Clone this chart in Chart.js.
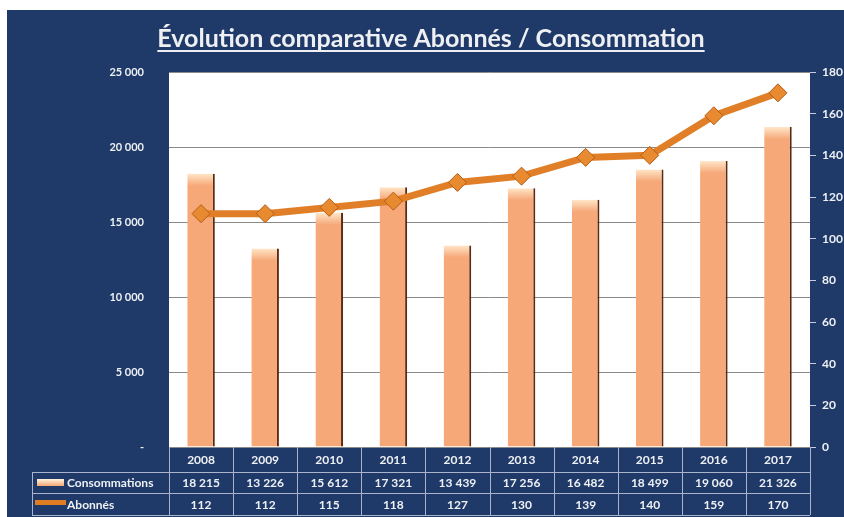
<!DOCTYPE html>
<html lang="fr">
<head>
<meta charset="UTF-8">
<title>Évolution comparative Abonnés / Consommation</title>
<script src="https://cdn.jsdelivr.net/npm/chart.js"></script>
<style>
  body { margin: 0; background: #fff; }
</style>
</head>
<body>
<canvas id="chart" width="844" height="517"></canvas>
<script>
  // data
  const years = ['2008', '2009', '2010', '2011', '2012', '2013', '2014', '2015', '2016', '2017'];
  const consommations = [18215, 13226, 15612, 17321, 13439, 17256, 16482, 18499, 19060, 21326];
  const abonnes = [112, 112, 115, 118, 127, 130, 139, 140, 159, 170];
  const seriesNames = ['Consommations', 'Abonnés'];
  const titleText = 'Évolution comparative Abonnés / Consommation';

  const NAVY = '#1f3a68';
  const TXT = '#eef0f4';
  const FONT = 'Lato, "Open Sans", sans-serif';

  function fmt(v) {
    return String(Math.round(v)).replace(/\B(?=(\d{3})+(?!\d))/g, ' ');
  }

  // background, white plot area and title
  const backdrop = {
    id: 'backdrop',
    beforeDraw(chart) {
      const ctx = chart.ctx, a = chart.chartArea;
      ctx.save();
      ctx.fillStyle = '#fff';
      ctx.fillRect(0, 0, chart.width, chart.height);
      ctx.fillStyle = NAVY;
      ctx.fillRect(7, 10, chart.width - 7, chart.height - 10);
      ctx.fillStyle = '#fff';
      ctx.fillRect(a.left, a.top, a.right - a.left, a.bottom - a.top);

      ctx.font = 'bold 25px ' + FONT;
      ctx.fillStyle = TXT;
      ctx.textAlign = 'center';
      ctx.textBaseline = 'alphabetic';
      const cx = 431;
      ctx.fillText(titleText, cx, 47);
      const w = ctx.measureText(titleText).width;
      ctx.fillRect(cx - w / 2, 50, w, 2);
      ctx.restore();
    }
  };

  // data table under the plot, columns follow the x scale
  const dataTable = {
    id: 'dataTable',
    afterDraw(chart) {
      const ctx = chart.ctx, a = chart.chartArea, xs = chart.scales.x;
      const n = years.length;
      const colW = (a.right - a.left) / n;
      const rowY = [a.bottom, 472, 493, 515];
      const tableLeft = 32;
      ctx.save();
      ctx.strokeStyle = '#aab4cc';
      ctx.lineWidth = 1;
      ctx.beginPath();
      for (let i = 0; i <= n; i++) {
        const x = Math.round(a.left + i * colW) + 0.5;
        ctx.moveTo(x, a.bottom);
        ctx.lineTo(x, rowY[3]);
      }
      ctx.moveTo(tableLeft + 0.5, rowY[1]);
      ctx.lineTo(tableLeft + 0.5, rowY[3]);
      for (let r = 1; r < 4; r++) {
        ctx.moveTo(tableLeft, rowY[r] + 0.5);
        ctx.lineTo(a.right, rowY[r] + 0.5);
      }
      ctx.stroke();

      ctx.fillStyle = TXT;
      ctx.font = 'bold 12px ' + FONT;
      ctx.textAlign = 'center';
      ctx.textBaseline = 'middle';
      for (let i = 0; i < n; i++) {
        const x = xs.getPixelForValue(i);
        ctx.fillText(years[i], x, (rowY[0] + rowY[1]) / 2 + 1);
        ctx.fillText(fmt(consommations[i]), x, (rowY[1] + rowY[2]) / 2 + 1);
        ctx.fillText(fmt(abonnes[i]), x, (rowY[2] + rowY[3]) / 2 + 1);
      }

      // legend keys
      ctx.textAlign = 'left';
      ctx.fillText(seriesNames[0], 67, (rowY[1] + rowY[2]) / 2 + 1);
      ctx.fillText(seriesNames[1], 67, (rowY[2] + rowY[3]) / 2 + 1);
      const g = ctx.createLinearGradient(0, 479, 0, 487);
      g.addColorStop(0, '#fff3e0');
      g.addColorStop(1, '#f29a62');
      ctx.fillStyle = g;
      ctx.fillRect(37, 479, 27, 7);
      ctx.fillStyle = '#e07d22';
      ctx.fillRect(35, 500, 31, 5);
      ctx.restore();
    }
  };

  const ctx = document.getElementById('chart').getContext('2d');
  new Chart(ctx, {
    data: {
      labels: years,
      datasets: [
        {
          type: 'line',
          label: seriesNames[1],
          data: abonnes,
          yAxisID: 'y1',
          order: 0,
          borderColor: '#e07f28',
          borderWidth: 7,
          tension: 0,
          pointStyle: 'rectRot',
          pointRadius: 9,
          pointBackgroundColor: '#e88a30',
          pointBorderColor: '#b65c14',
          pointBorderWidth: 1
        },
        {
          type: 'bar',
          label: seriesNames[0],
          data: consommations,
          yAxisID: 'y',
          order: 1,
          barPercentage: 0.43,
          categoryPercentage: 1,
          backgroundColor(c) {
            const chart = c.chart;
            const y = chart.scales && chart.scales.y;
            if (!y || c.raw == null) return '#f6a878';
            const top = y.getPixelForValue(c.raw);
            if (!isFinite(top)) return '#f6a878';
            const g = chart.ctx.createLinearGradient(0, top, 0, top + 12);
            g.addColorStop(0, '#ffe6c8');
            g.addColorStop(1, '#f6a878');
            return g;
          },
          borderColor: '#5a2a12',
          borderWidth: { left: 0, right: 2, top: 0, bottom: 0 },
          borderSkipped: false
        }
      ]
    },
    options: {
      responsive: false,
      animation: false,
      devicePixelRatio: 1,
      layout: { padding: { top: 72, left: 0, right: 0, bottom: 70 } },
      plugins: {
        legend: { display: false },
        title: { display: false },
        tooltip: { enabled: false }
      },
      scales: {
        x: { display: false, offset: true },
        y: {
          position: 'left',
          min: 0,
          max: 25000,
          afterFit(s) { s.width = 169; },
          ticks: {
            stepSize: 5000,
            padding: 25,
            color: TXT,
            font: { family: FONT, size: 11, weight: 'bold' },
            callback: v => v === 0 ? '-' : fmt(v)
          },
          grid: { color: '#8a8a8a', drawTicks: false },
          border: { display: false }
        },
        y1: {
          position: 'right',
          min: 0,
          max: 180,
          afterFit(s) { s.width = 34; },
          ticks: {
            stepSize: 20,
            padding: 6,
            color: TXT,
            font: { family: FONT, size: 12, weight: 'bold' }
          },
          grid: { drawOnChartArea: false, drawTicks: true, tickLength: 6, color: '#c8ccd8' },
          border: { display: false }
        }
      }
    },
    plugins: [backdrop, dataTable]
  });
</script>
</body>
</html>
